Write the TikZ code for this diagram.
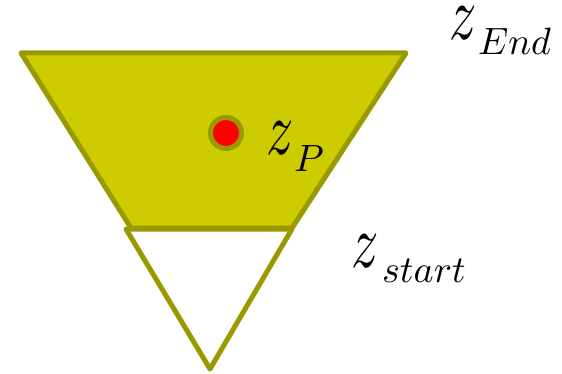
\documentclass[tikz,border=0pt]{standalone}
\definecolor{olivestroke}{HTML}{999900}
\definecolor{olivefill}{HTML}{CCCC00}
\newcommand{\zzmain}{\scalebox{5.4}[7.6]{$z$}}
\newcommand{\subsc}[1]{\scalebox{3.8}{$#1$}}
\begin{document}
\begin{tikzpicture}[x=1pt,y=-1pt,
  shapeline/.style={draw=olivestroke,line width=5pt,line join=round},
  lbl/.style={anchor=base west,inner sep=0pt}]
\useasboundingbox (0,0) rectangle (562,374);
% trapezoid
\coordinate (t1) at (21,53);
\coordinate (t2) at (406,53);
\coordinate (t3) at (292,228);
\coordinate (t4) at (131,228);
\fill[olivefill] (t1) -- (t2) -- (t3) -- (t4) -- cycle;
% triangle
\coordinate (r1) at (126,229);
\coordinate (r2) at (292,229);
\coordinate (r3) at (210,369);
\draw[shapeline,fill=white] (r1) -- (r2) -- (r3) -- cycle;
\draw[shapeline] (t1) -- (t2) -- (t3) -- (t4) -- cycle;
% point
\node[circle,draw=olivestroke,line width=5pt,fill=red,minimum size=31pt,inner sep=0pt] (p) at (226,133) {};
% labels
\node[lbl] (zend) at (449,40) {\makebox[29pt][l]{\zzmain}\lower15pt\hbox{\subsc{End}}};
\node[lbl] (zp) at (266,155) {\makebox[28pt][l]{\zzmain}\lower17pt\hbox{\subsc{P}}};
\node[lbl] (zstart) at (351,267) {\makebox[31pt][l]{\zzmain}\lower16pt\hbox{\subsc{start}}};
\end{tikzpicture}
\end{document}
